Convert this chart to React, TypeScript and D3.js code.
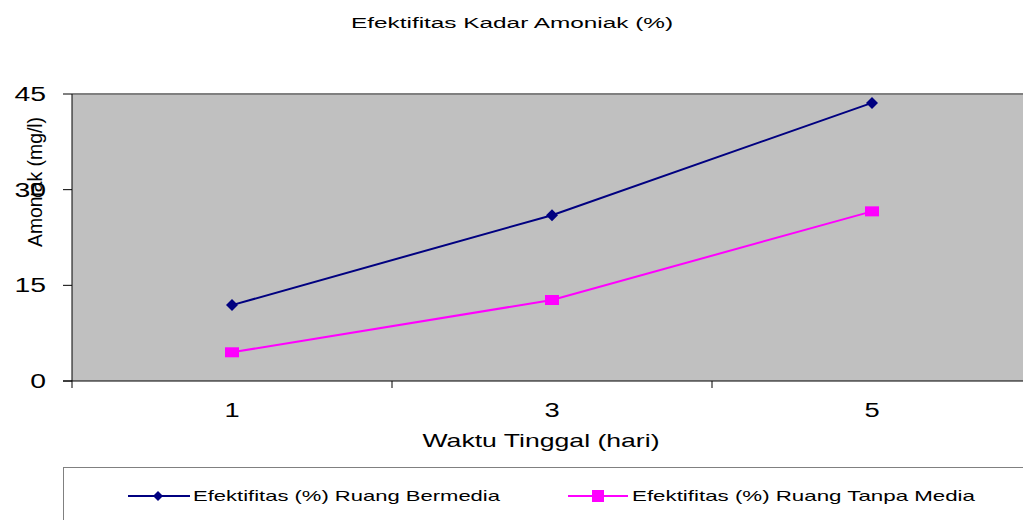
import React from "react";
import * as d3 from "d3";

const days = ["1", "3", "5"];
const bermedia = [11.9, 26.0, 43.6];
const tanpaMedia = [4.5, 12.7, 26.6];
const yTicks = [0, 15, 30, 45];

const W = 1023;
const H = 520;
const plot = { left: 72, top: 94, right: 1032, bottom: 381 };
const font = "'Liberation Sans', Arial, sans-serif";

export default function App() {
  const x = d3
    .scaleBand()
    .domain(days)
    .range([plot.left, plot.right])
    .padding(0);
  const y = d3.scaleLinear().domain([0, 45]).range([plot.bottom, plot.top]);
  const cx = (d) => x(d) + x.bandwidth() / 2;

  const line = d3
    .line()
    .x((d) => d[0])
    .y((d) => d[1]);

  const pts1 = days.map((d, i) => [cx(d), y(bermedia[i])]);
  const pts2 = days.map((d, i) => [cx(d), y(tanpaMedia[i])]);

  const diamond = (px, py, r = 6) =>
    `M${px},${py - r}L${px + r},${py}L${px},${py + r}L${px - r},${py}Z`;

  return (
    <svg
      width={W}
      height={H}
      style={{ position: "absolute", left: 0, top: 0, background: "#fff" }}
    >
      <text
        x={512}
        y={28}
        textAnchor="middle"
        fontFamily={font}
        fontSize={14}
        textLength={322}
        lengthAdjust="spacingAndGlyphs"
      >
        Efektifitas Kadar Amoniak (%)
      </text>

      {/* plot area */}
      <rect
        x={plot.left}
        y={plot.top}
        width={plot.right - plot.left}
        height={plot.bottom - plot.top}
        fill="#c0c0c0"
      />
      <line
        x1={plot.left}
        x2={plot.right}
        y1={plot.top}
        y2={plot.top}
        stroke="#808080"
        strokeWidth={2}
      />

      {/* y axis */}
      <line x1={plot.left} x2={plot.left} y1={plot.top} y2={plot.bottom} stroke="#000" />
      {yTicks.map((t) => (
        <g key={t}>
          <line x1={plot.left - 9} x2={plot.left} y1={y(t)} y2={y(t)} stroke="#000" />
          <text
            transform={`translate(46,${y(t) + 7}) scale(1.35,1)`}
            textAnchor="end"
            fontFamily={font}
            fontSize={21}
          >
            {t}
          </text>
        </g>
      ))}
      <text
        transform={`translate(42,182) rotate(-90)`}
        textAnchor="middle"
        fontFamily={font}
        fontSize={20}
        textLength={130}
        lengthAdjust="spacingAndGlyphs"
      >
        Amoniak (mg/l)
      </text>

      {/* x axis */}
      <line x1={plot.left - 9} x2={plot.right} y1={plot.bottom} y2={plot.bottom} stroke="#000" />
      {[...days.map((d) => x(d)), plot.right].map((v, i) => (
        <line key={i} x1={v} x2={v} y1={plot.bottom} y2={plot.bottom + 7} stroke="#000" />
      ))}
      {days.map((d) => (
        <text
          key={d}
          transform={`translate(${cx(d)},417) scale(1.3,1)`}
          textAnchor="middle"
          fontFamily={font}
          fontSize={21}
        >
          {d}
        </text>
      ))}
      <text
        x={541}
        y={447}
        textAnchor="middle"
        fontFamily={font}
        fontSize={19}
        textLength={237}
        lengthAdjust="spacingAndGlyphs"
      >
        Waktu Tinggal (hari)
      </text>

      {/* series */}
      <path d={line(pts1)} fill="none" stroke="#000080" strokeWidth={2} />
      {pts1.map((p, i) => (
        <path key={i} d={diamond(p[0], p[1])} fill="#000080" />
      ))}
      <path d={line(pts2)} fill="none" stroke="#ff00ff" strokeWidth={2} />
      {pts2.map((p, i) => (
        <rect key={i} x={p[0] - 7} y={p[1] - 5} width={14} height={10} fill="#ff00ff" />
      ))}

      {/* legend */}
      <rect
        x={63.5}
        y={467.5}
        width={1000}
        height={100}
        fill="#fff"
        stroke="#000"
        strokeDasharray="1,1"
      />
      <line x1={128} x2={190} y1={496} y2={496} stroke="#000080" strokeWidth={2} />
      <path d={diamond(158, 496, 5)} fill="#000080" />
      <text
        x={193}
        y={501}
        fontFamily={font}
        fontSize={15}
        textLength={307}
        lengthAdjust="spacingAndGlyphs"
      >
        Efektifitas (%) Ruang Bermedia
      </text>
      <line x1={568} x2={628} y1={496} y2={496} stroke="#ff00ff" strokeWidth={2} />
      <rect x={592} y={490} width={12} height={12} fill="#ff00ff" />
      <text
        x={632}
        y={501}
        fontFamily={font}
        fontSize={15}
        textLength={343}
        lengthAdjust="spacingAndGlyphs"
      >
        Efektifitas (%) Ruang Tanpa Media
      </text>
    </svg>
  );
}
